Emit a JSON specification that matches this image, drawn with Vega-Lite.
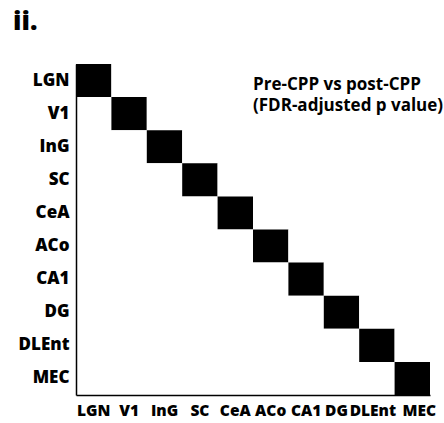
{
  "$schema": "https://vega.github.io/schema/vega-lite/v6.json",
  "width": 354,
  "height": 331,
  "autosize": "none",
  "padding": {"left": 76, "top": 64, "right": 14, "bottom": 28},
  "background": "white",
  "title": {"text": "ii.", "anchor": "start", "frame": "group", "dx": -63, "offset": 8, "baseline": "alphabetic", "fontSize": 26, "font": "Open Sans", "fontWeight": 800, "color": "black"},
  "config": {"view": {"stroke": null}, "font": "Open Sans"},
  "datasets": {
    "cells": [
      {"r":"LGN","c":"LGN","v":1},{"r":"LGN","c":"V1","v":0},{"r":"LGN","c":"InG","v":0},{"r":"LGN","c":"SC","v":0},{"r":"LGN","c":"CeA","v":0},{"r":"LGN","c":"ACo","v":0},{"r":"LGN","c":"CA1","v":0},{"r":"LGN","c":"DG","v":0},{"r":"LGN","c":"DLEnt","v":0},{"r":"LGN","c":"MEC","v":0},
      {"r":"V1","c":"LGN","v":0},{"r":"V1","c":"V1","v":1},{"r":"V1","c":"InG","v":0},{"r":"V1","c":"SC","v":0},{"r":"V1","c":"CeA","v":0},{"r":"V1","c":"ACo","v":0},{"r":"V1","c":"CA1","v":0},{"r":"V1","c":"DG","v":0},{"r":"V1","c":"DLEnt","v":0},{"r":"V1","c":"MEC","v":0},
      {"r":"InG","c":"LGN","v":0},{"r":"InG","c":"V1","v":0},{"r":"InG","c":"InG","v":1},{"r":"InG","c":"SC","v":0},{"r":"InG","c":"CeA","v":0},{"r":"InG","c":"ACo","v":0},{"r":"InG","c":"CA1","v":0},{"r":"InG","c":"DG","v":0},{"r":"InG","c":"DLEnt","v":0},{"r":"InG","c":"MEC","v":0},
      {"r":"SC","c":"LGN","v":0},{"r":"SC","c":"V1","v":0},{"r":"SC","c":"InG","v":0},{"r":"SC","c":"SC","v":1},{"r":"SC","c":"CeA","v":0},{"r":"SC","c":"ACo","v":0},{"r":"SC","c":"CA1","v":0},{"r":"SC","c":"DG","v":0},{"r":"SC","c":"DLEnt","v":0},{"r":"SC","c":"MEC","v":0},
      {"r":"CeA","c":"LGN","v":0},{"r":"CeA","c":"V1","v":0},{"r":"CeA","c":"InG","v":0},{"r":"CeA","c":"SC","v":0},{"r":"CeA","c":"CeA","v":1},{"r":"CeA","c":"ACo","v":0},{"r":"CeA","c":"CA1","v":0},{"r":"CeA","c":"DG","v":0},{"r":"CeA","c":"DLEnt","v":0},{"r":"CeA","c":"MEC","v":0},
      {"r":"ACo","c":"LGN","v":0},{"r":"ACo","c":"V1","v":0},{"r":"ACo","c":"InG","v":0},{"r":"ACo","c":"SC","v":0},{"r":"ACo","c":"CeA","v":0},{"r":"ACo","c":"ACo","v":1},{"r":"ACo","c":"CA1","v":0},{"r":"ACo","c":"DG","v":0},{"r":"ACo","c":"DLEnt","v":0},{"r":"ACo","c":"MEC","v":0},
      {"r":"CA1","c":"LGN","v":0},{"r":"CA1","c":"V1","v":0},{"r":"CA1","c":"InG","v":0},{"r":"CA1","c":"SC","v":0},{"r":"CA1","c":"CeA","v":0},{"r":"CA1","c":"ACo","v":0},{"r":"CA1","c":"CA1","v":1},{"r":"CA1","c":"DG","v":0},{"r":"CA1","c":"DLEnt","v":0},{"r":"CA1","c":"MEC","v":0},
      {"r":"DG","c":"LGN","v":0},{"r":"DG","c":"V1","v":0},{"r":"DG","c":"InG","v":0},{"r":"DG","c":"SC","v":0},{"r":"DG","c":"CeA","v":0},{"r":"DG","c":"ACo","v":0},{"r":"DG","c":"CA1","v":0},{"r":"DG","c":"DG","v":1},{"r":"DG","c":"DLEnt","v":0},{"r":"DG","c":"MEC","v":0},
      {"r":"DLEnt","c":"LGN","v":0},{"r":"DLEnt","c":"V1","v":0},{"r":"DLEnt","c":"InG","v":0},{"r":"DLEnt","c":"SC","v":0},{"r":"DLEnt","c":"CeA","v":0},{"r":"DLEnt","c":"ACo","v":0},{"r":"DLEnt","c":"CA1","v":0},{"r":"DLEnt","c":"DG","v":0},{"r":"DLEnt","c":"DLEnt","v":1},{"r":"DLEnt","c":"MEC","v":0},
      {"r":"MEC","c":"LGN","v":0},{"r":"MEC","c":"V1","v":0},{"r":"MEC","c":"InG","v":0},{"r":"MEC","c":"SC","v":0},{"r":"MEC","c":"CeA","v":0},{"r":"MEC","c":"ACo","v":0},{"r":"MEC","c":"CA1","v":0},{"r":"MEC","c":"DG","v":0},{"r":"MEC","c":"DLEnt","v":0},{"r":"MEC","c":"MEC","v":1}
    ],
    "note": [
      {"r": "LGN", "c": "ACo", "label": ["Pre-CPP vs post-CPP", "(FDR-adjusted p value)"]}
    ]
  },
  "encoding": {
    "x": {"field": "c", "type": "nominal", "sort": ["LGN","V1","InG","SC","CeA","ACo","CA1","DG","DLEnt","MEC"], "scale": {"paddingInner": 0, "paddingOuter": 0},
      "axis": {"title": null, "orient": "bottom", "labelAngle": 0, "ticks": false, "domainColor": "black", "domainWidth": 1.5, "labelFontSize": 15.5, "labelFontWeight": 800, "labelColor": "black", "labelPadding": 8, "labelOverlap": false, "labelOffset": {"expr": "datum.value == 'MEC' ? 7 : datum.value == 'DLEnt' ? -4 : datum.value == 'DG' ? -5 : 0"}, "zindex": 1, "grid": false}},
    "y": {"field": "r", "type": "nominal", "sort": ["LGN","V1","InG","SC","CeA","ACo","CA1","DG","DLEnt","MEC"], "scale": {"paddingInner": 0, "paddingOuter": 0},
      "axis": {"title": null, "ticks": false, "domainColor": "black", "domainWidth": 1.5, "labelFontSize": 17, "labelFontWeight": 800, "labelColor": "black", "labelPadding": 7, "zindex": 1, "grid": false}}
  },
  "layer": [
    {
      "data": {"name": "cells"},
      "mark": {"type": "rect", "strokeWidth": 0},
      "encoding": {
        "color": {"field": "v", "type": "quantitative", "scale": {"domain": [0, 1], "range": ["white", "black"]}, "legend": null}
      }
    },
    {
      "data": {"name": "note"},
      "mark": {"type": "text", "align": "left", "baseline": "alphabetic", "fontSize": 17, "fontWeight": "bold", "color": "black", "lineHeight": 21, "font": "Open Sans"},
      "encoding": {
        "x": {"field": "c", "type": "nominal", "sort": ["LGN","V1","InG","SC","CeA","ACo","CA1","DG","DLEnt","MEC"], "bandPosition": 0},
        "y": {"field": "r", "type": "nominal", "sort": ["LGN","V1","InG","SC","CeA","ACo","CA1","DG","DLEnt","MEC"], "bandPosition": 0.8},
        "text": {"field": "label"}
      }
    }
  ]
}
